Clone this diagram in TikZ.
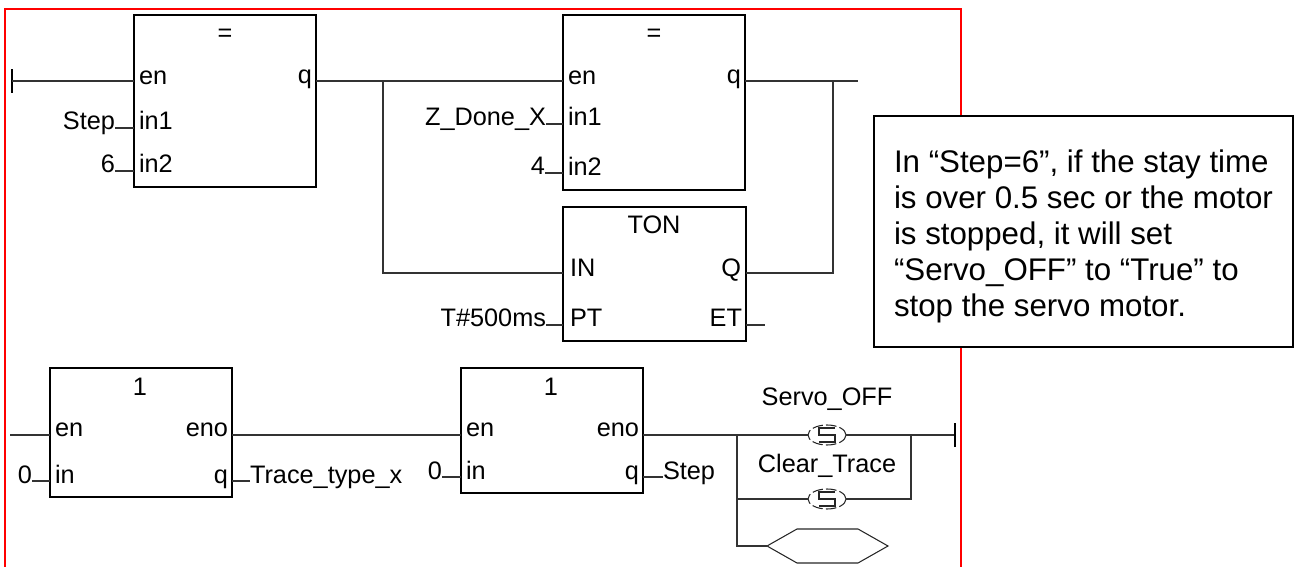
\documentclass[tikz,border=0pt]{standalone}
\usepackage{xcolor}
\usepackage{fontspec}
\setmainfont{Liberation Sans}
\usetikzlibrary{positioning,shapes.geometric,calc}

\begin{document}
\begin{tikzpicture}[x=0.02cm, y=-0.02cm,
    every node/.style={font=\fontsize{14.4}{17}\selectfont, inner sep=0pt, outer sep=0pt},
    wire/.style={line width=0.7pt, black!80},
    fblock/.style={draw, line width=1.3pt, anchor=north west},
    pinl/.style={anchor=base west},
    pinr/.style={anchor=base east},
    coil/.style={draw, ellipse, dash pattern=on 6pt off 1.8pt, line width=0.6pt, black!85, minimum width=38*0.02cm, minimum height=20*0.02cm},
    callout/.style={draw, line width=0.8pt, fill=white, anchor=north west, minimum width=419*0.02cm, minimum height=231*0.02cm}
  ]
  \useasboundingbox (0,0) rectangle (1298,567);
  % Red frame
  \draw[red, line width=1.1pt] (5,567) -- (5,9) -- (961,9) -- (961,567);

  % Function blocks
  \foreach \n/\x/\y/\w/\h in {fbeqa/134/15/182/172, fbeqb/563/15/182/175, fbton/563/207/183/134, fbseta/50/368/182/129, fbsetb/461/368/182/125}{
    \node[fblock, minimum width=\w*0.02cm, minimum height=\h*0.02cm] (\n) at (\x,\y) {};
  }
  % Block titles
  \foreach \n/\t/\x/\y in {teqa/=/225/42, teqb/=/654/42, tton/TON/654/234, tseta/1/140/396, tsetb/1/551/396}{
    \node[anchor=base] (\n) at (\x,\y) {\t};
  }
  % Pins inside the blocks
  \foreach \n/\t/\x/\y in {pa/en/139/85, pb/in1/139/130, pc/in2/139/173, pd/en/568/85, pe/in1/568/126, pf/in2/568/176, pg/IN/570/277, ph/PT/570/327, pi/en/55/437, pj/in/55/483, pk/en/466/437, pl/in/466/479}{
    \node[pinl] (\n) at (\x,\y) {\t};
  }
  \foreach \n/\t/\x/\y in {qa/q/312/84, qb/q/741/84, qc/Q/741/277, qd/ET/742/327, qe/eno/228/437, qf/q/228/483, qg/eno/639/437, qh/q/639/479}{
    \node[pinr] (\n) at (\x,\y) {\t};
  }
  % Variables on the input side
  \foreach \n/\t/\x/\y/\b in {lstep/Step/115/130/fbeqa, lsix/6/115/173/fbeqa, lzdone/Z\_Done\_X/546/126/fbeqb, lfour/4/545/175/fbeqb, ltime/T\#500ms/546/327/fbton, lzeroa/0/32/483/fbseta, lzerob/0/442/479/fbsetb}{
    \node[pinr] (\n) at (\x,\y) {\t};
    \draw[wire] ([shift={(0,-2)}]\n.base east) -- ([shift={(0,-2)}]\n.base east -| \b.west);
  }
  % Variables on the output side
  \node[pinl] (ltrace) at (250,483) {Trace\_type\_x};
  \node[pinl] (lstepb) at (663,479) {Step};
  \draw[wire] ([shift={(0,-2)}]ltrace.base west) -- ([shift={(0,-2)}]ltrace.base west -| fbseta.east);
  \draw[wire] ([shift={(0,-2)}]lstepb.base west) -- ([shift={(0,-2)}]lstepb.base west -| fbsetb.east);

  % Upper rung
  \coordinate (raila) at (12,81);
  \coordinate (junca) at (383,81);
  \coordinate (juncb) at (833,81);
  \coordinate (enda) at (858,81);
  \coordinate (juncq) at (833,273);
  \coordinate (etend) at (765,325);
  \draw[line width=1pt] ([yshift=-12*0.02cm]raila) -- ([yshift=12*0.02cm]raila);
  \draw[wire] (raila) -- (raila -| fbeqa.west);
  \draw[wire] (junca -| fbeqa.east) -- (junca -| fbeqb.west);
  \draw[wire] (juncb -| fbeqb.east) -- (enda);
  \draw[wire] (junca) |- (juncq -| fbton.west);
  \draw[wire] (juncq -| fbton.east) -| (juncb);
  \draw[wire] (etend -| fbton.east) -- (etend);

  % Lower rung
  \coordinate (railb) at (10,435);
  \coordinate (juncc) at (737,435);
  \coordinate (juncd) at (911,435);
  \coordinate (endb) at (955,435);
  \coordinate (hexw) at (767,546);
  \node[coil] (coila) at (827,435) {};
  \node[coil] (coilb) at (827,499) {};
  \foreach \c in {coila, coilb}{
    \draw[line width=0.7pt, black!85] ([shift={(8,-7)}]\c.center) -- ++(-16,0) -- ++(0,7) -- ++(16,0) -- ++(0,7) -- ++(-16,0);
  }
  \node[anchor=base] (lservo) at (827,405) {Servo\_OFF};
  \node[anchor=base] (lclear) at (827,472) {Clear\_Trace};
  \draw[line width=0.6pt, black!85] (hexw) -- (797,529) -- (858,529) -- (888,546) -- (858,563) -- (797,563) -- cycle;
  \draw[wire] (railb) -- (railb -| fbseta.west);
  \draw[wire] (fbseta.east |- railb) -- (fbsetb.west |- railb);
  \draw[wire] (fbsetb.east |- railb) -- (coila.west);
  \draw[wire] (coila.east) -- (endb);
  \draw[line width=1pt] ([yshift=-12*0.02cm]endb) -- ([yshift=12*0.02cm]endb);
  \draw[wire] (juncc) |- (coilb.west);
  \draw[wire] (coilb.east) -| (juncd);
  \draw[wire] (juncc) |- (hexw);

  % Remark
  \node[callout] (remark) at (874,116) {};
  \node[anchor=north west, align=left, font=\fontsize{17.8}{20.5}\selectfont] (remarktxt) at (894,150) {In “Step=6”, if the stay time\\is over 0.5 sec or the motor\\is stopped, it will set\\“Servo\_OFF” to “True” to\\stop the servo motor.};
\end{tikzpicture}
\end{document}
